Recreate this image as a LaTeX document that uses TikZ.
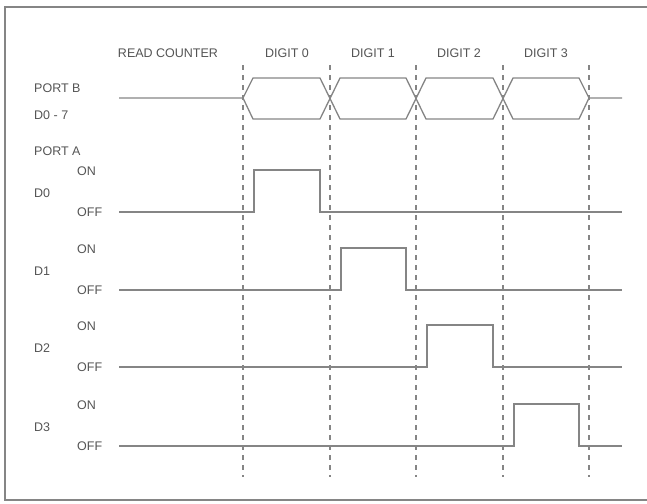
\documentclass[tikz,border=0pt]{standalone}
\usepackage{fontspec}
\setmainfont{Liberation Sans}
\usetikzlibrary{positioning}
\definecolor{wavegray}{gray}{0.52}
\definecolor{textgray}{gray}{0.33}

\begin{document}
\begin{tikzpicture}[x=1pt,y=-1pt,inner sep=0pt,
  font=\fontsize{12.5}{14}\selectfont,
  wave/.style={color=wavegray,line width=1.3pt,line join=miter},
  mark line/.style={color=wavegray,line width=1.1pt,dash pattern=on 5pt off 5pt},
  lbl/.style={color=textgray,anchor=west}]
\useasboundingbox (0,0) rectangle (647,503);
\draw[color=wavegray,line width=1.1pt] (647,7)--(5,7)--(5,500)--(647,500);

% time marks
\foreach \n/\x in {0/243,1/330,2/416,3/503,4/589}{
  \coordinate (t\n) at (\x,65);
  \coordinate (b\n) at (\x,477);
  \draw[mark line] (t\n)--(b\n);
}

\node[color=textgray] (rc) at (168,53) {READ COUNTER};
\foreach \i/\x in {0/287,1/373,2/459,3/546}
  \node[color=textgray] (dig\i) at (\x,53) {DIGIT \i};

\node[lbl] (portb) at (34,88) {PORT B};
\node[lbl] (dbus) at (34,115) {D0 - 7};
\node[lbl] (porta) at (34,151) {PORT A};

% port B bus
\draw[wave] (119,98)--(243,98)--(253,78)--(320,78)--(340,119)--(406,119)--(426,78)--(493,78)--(513,119)--(579,119)--(589,98)--(622,98);
\draw[wave] (243,98)--(253,119)--(320,119)--(340,78)--(406,78)--(426,119)--(493,119)--(513,78)--(579,78)--(589,98);

% port A lines
\foreach \i/\a/\b/\lo in {0/243/330/212,1/330/416/290,2/416/503/367,3/503/589/446}{
  \node[lbl] (d\i) at (34,\lo-19) {D\i};
  \node[lbl] (on\i) at (77,\lo-41) {ON};
  \node[lbl] (off\i) at (77,\lo) {OFF};
  \draw[wave] (119,\lo)--(\a+11,\lo)--(\a+11,\lo-42)--(\b-10,\lo-42)--(\b-10,\lo)--(622,\lo);
}

\end{tikzpicture}
\end{document}
